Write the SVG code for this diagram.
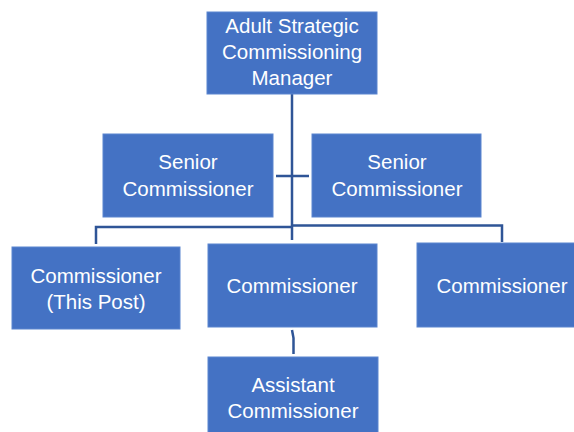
<svg xmlns="http://www.w3.org/2000/svg" width="574" height="432" viewBox="0 0 574 432">
<style>
.box{fill:#4472C4;stroke:#5b85cf;stroke-width:1}
.t{fill:#fff;font-family:"Liberation Sans",Arial,sans-serif;font-size:20.5px;text-anchor:middle}
.c{fill:none;stroke:#2F5597;stroke-width:2.5}
</style>
<rect width="574" height="432" fill="#fff"/>
<g id="connectors">
<path class="c" d="M292 94V240"/>
<path class="c" d="M276 176H309"/>
<path class="c" d="M96 244V227H292"/>
<path class="c" d="M292 225.5H502V242"/>
<path class="c" d="M292 330L293.5 338V354"/>
</g>
<g id="manager">
<rect class="box" x="207" y="12" width="170" height="82"/>
<text class="t" x="292" y="33">Adult Strategic</text>
<text class="t" x="292" y="59">Commissioning</text>
<text class="t" x="292" y="85">Manager</text>
</g>
<g id="senior1">
<rect class="box" x="103" y="134" width="170" height="83"/>
<text class="t" x="188" y="169">Senior</text>
<text class="t" x="188" y="196">Commissioner</text>
</g>
<g id="senior2">
<rect class="box" x="312" y="134" width="169" height="83"/>
<text class="t" x="397" y="169">Senior</text>
<text class="t" x="397" y="196">Commissioner</text>
</g>
<g id="comm1">
<rect class="box" x="12" y="247" width="168" height="82"/>
<text class="t" x="96" y="283">Commissioner</text>
<text class="t" x="96" y="309">(This Post)</text>
</g>
<g id="comm2">
<rect class="box" x="208" y="244" width="169" height="83"/>
<text class="t" x="292" y="293">Commissioner</text>
</g>
<g id="comm3">
<rect class="box" x="417" y="243" width="160" height="84"/>
<text class="t" x="502" y="293">Commissioner</text>
</g>
<g id="assistant">
<rect class="box" x="208" y="357" width="170" height="80"/>
<text class="t" x="293" y="392">Assistant</text>
<text class="t" x="293" y="418">Commissioner</text>
</g>
</svg>
